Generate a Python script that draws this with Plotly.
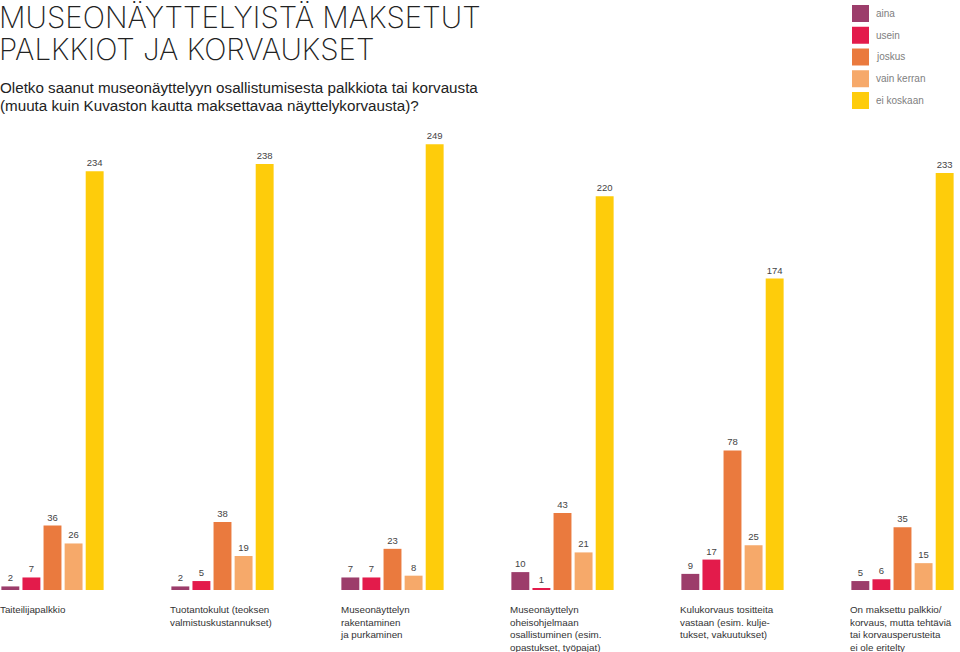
import plotly.graph_objects as go

categories = [
    "Taiteilijapalkkio",
    "Tuotantokulut (teoksen<br>valmistuskustannukset)",
    "Museonäyttelyn<br>rakentaminen<br>ja purkaminen",
    "Museonäyttelyn<br>oheisohjelmaan<br>osallistuminen (esim.<br>opastukset, työpajat)",
    "Kulukorvaus tositteita<br>vastaan (esim. kulje-<br>tukset, vakuutukset)",
    "On maksettu palkkio/<br>korvaus, mutta tehtäviä<br>tai korvausperusteita<br>ei ole eritelty",
]
series_names = ["aina", "usein", "joskus", "vain kerran", "ei koskaan"]
aina = [2, 2, 7, 10, 9, 5]
usein = [7, 5, 7, 1, 17, 6]
joskus = [36, 38, 23, 43, 78, 35]
vain_kerran = [26, 19, 8, 21, 25, 15]
ei_koskaan = [234, 238, 249, 220, 174, 233]
colors = ["#9c3d6b", "#e31b4b", "#ea7a3e", "#f6a96a", "#fecc0b"]

title_lines = ["MUSEONÄYTTELYISTÄ MAKSETUT", "PALKKIOT JA KORVAUKSET"]
subtitle_lines = [
    "Oletko saanut museonäyttelyyn osallistumisesta palkkiota tai korvausta",
    "(muuta kuin Kuvaston kautta maksettavaa näyttelykorvausta)?",
]

W, H = 960, 652
MT, MB = 130, 62
PH = H - MT - MB


def py(p):
    # pixel y from top -> paper y
    return (H - MB - p) / PH


fig = go.Figure()
values = [aina, usein, joskus, vain_kerran, ei_koskaan]
x_idx = list(range(len(categories)))
for name, vals, col in zip(series_names, values, colors):
    fig.add_trace(go.Bar(
        x=x_idx, y=vals, name=name, marker=dict(color=col, line=dict(width=0)),
        text=[str(v) for v in vals], textposition="outside",
        textfont=dict(size=9.5, color="#444444", family="Liberation Sans"),
        constraintext="none", cliponaxis=False, showlegend=False,
    ))

annotations = []
shapes = []
# title (centre of each line given in px from top)
for i, t in enumerate(title_lines):
    annotations.append(dict(
        text=t, x=0, y=py(17 + 32 * i), xref="paper", yref="paper",
        xanchor="left", yanchor="middle", showarrow=False, xshift=-3,
        font=dict(size=29.5, color="#222222", family="Inter", weight=200),
    ))
for i, t in enumerate(subtitle_lines):
    annotations.append(dict(
        text=t, x=0, y=py(87 + 18 * i), xref="paper", yref="paper",
        xanchor="left", yanchor="middle", showarrow=False, xshift=-2,
        font=dict(size=15.2, color="#222222", family="Liberation Sans"),
    ))
# legend
for i, (name, col) in enumerate(zip(series_names, colors)):
    top = 5 + 21.75 * i
    shapes.append(dict(
        type="rect", xref="paper", yref="paper",
        x0=852 / W, x1=869 / W, y0=py(top + 17), y1=py(top),
        fillcolor=col, line=dict(width=0),
    ))
    annotations.append(dict(
        text=name, x=874 / W, y=py(top + 8.5), xref="paper", yref="paper",
        xanchor="left", yanchor="middle", showarrow=False,
        font=dict(size=10, color="#808080", family="Liberation Sans"),
    ))
# category labels
for i, c in enumerate(categories):
    annotations.append(dict(
        text=c, x=i, y=py(602), xref="x", yref="paper",
        xanchor="left", yanchor="top", showarrow=False, align="left",
        xshift=-52.5 - 2,
        font=dict(size=9.8, color="#333333", family="Liberation Sans"),
    ))

fig.update_layout(
    width=W, height=H,
    margin=dict(l=0, r=0, t=MT, b=MB),
    paper_bgcolor="white", plot_bgcolor="white",
    barmode="group", bargap=0.38, bargroupgap=0.15,
    xaxis=dict(range=[-52.5 / 170, (W - 52.5) / 170], showticklabels=False,
               showgrid=False, zeroline=False, showline=False, ticks=""),
    yaxis=dict(range=[0, PH / 1.79], visible=False),
    annotations=annotations, shapes=shapes,
)
fig.write_html(
    "out.html",
    config={"displayModeBar": False},
    post_script="document.body.style.margin='0';document.body.style.overflow='hidden';",
)
